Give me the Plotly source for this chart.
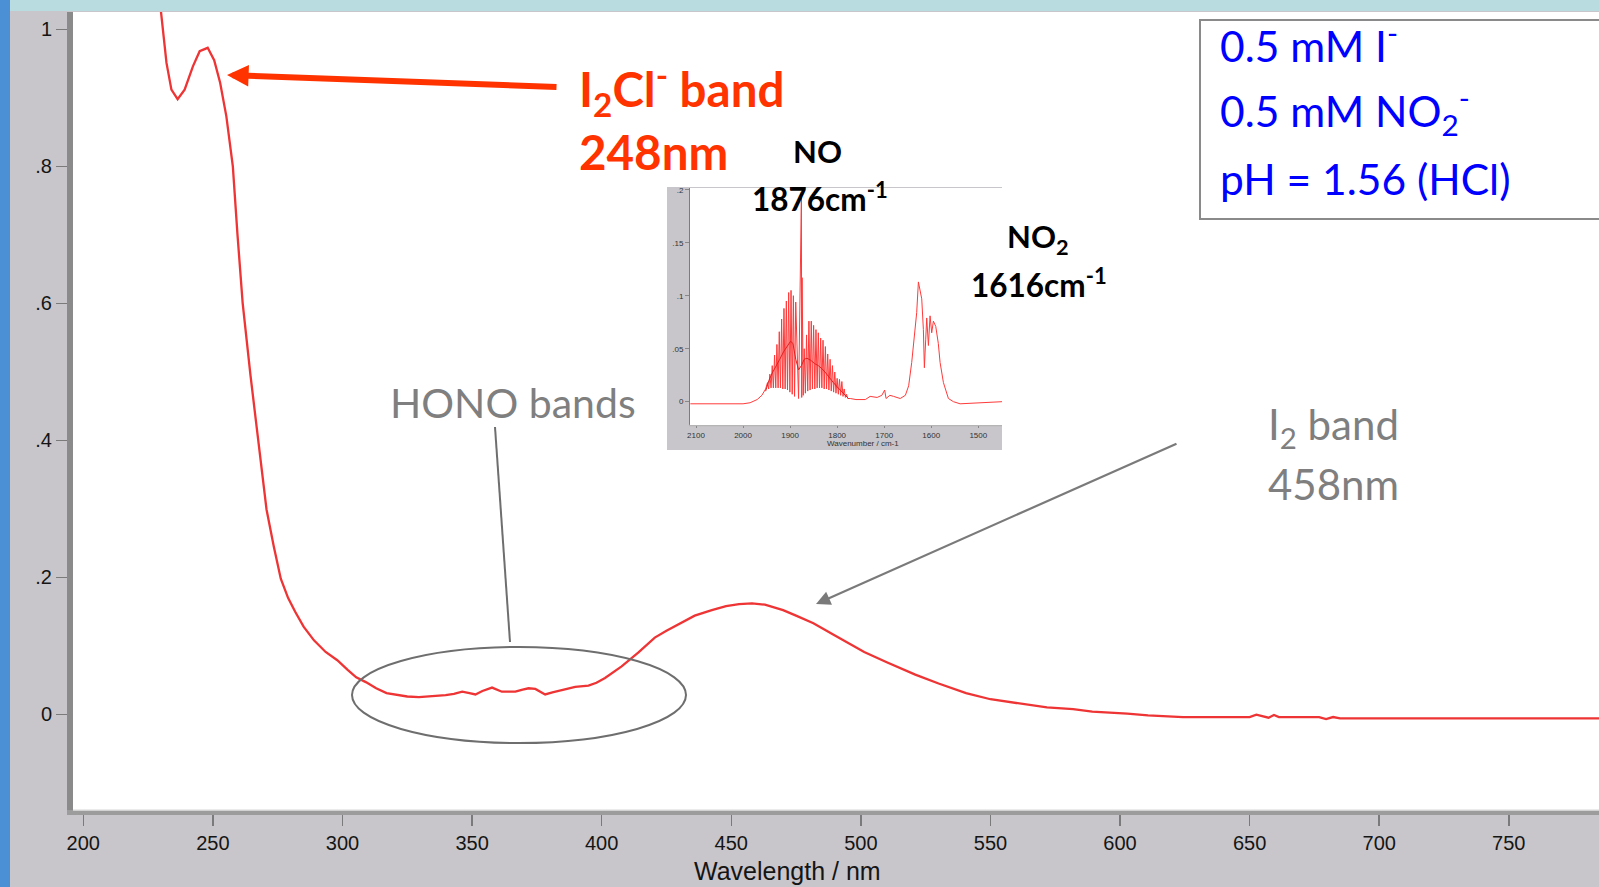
import plotly.graph_objects as go

W, H = 1599, 887

# ---- UV-Vis absorption spectrum (wavelength in nm, absorbance) ----
uv_wavelength = [229.0, 232.1, 234.0, 236.4, 239.1, 242.3, 244.9, 248.0, 250.5, 252.8,
                 255.2, 257.7, 259.5, 261.5, 264.5, 267.6, 270.7, 273.5, 276.2, 279.0,
                 281.7, 285.0, 289.0, 293.5, 298.0, 302.0, 305.3, 309.0, 313.0, 317.0,
                 321.8, 325.0, 329.5, 334.0, 339.8, 343.0, 346.2, 349.0, 351.3, 354.0,
                 357.7, 361.5, 366.7, 369.5, 371.8, 374.4, 376.5, 378.2, 381.0, 384.6,
                 389.8, 394.9, 398.0, 401.3, 404.5, 407.7, 414.1, 420.5, 425.0, 429.5,
                 435.9, 442.5, 448.0, 453.0, 458.0, 463.0, 470.0, 475.0, 481.7, 490.0,
                 501.3, 510.0, 521.0, 530.0, 540.6, 550.0, 560.2, 571.8, 581.9, 589.3,
                 602.8, 610.8, 624.3, 650.0, 652.6, 657.3, 659.4, 661.3, 676.8, 679.5,
                 682.2, 684.9, 700.0, 790.0]
uv_absorbance = [1.060, 0.951, 0.912, 0.898, 0.912, 0.946, 0.968, 0.973, 0.955, 0.922,
                 0.873, 0.800, 0.700, 0.600, 0.495, 0.396, 0.299, 0.245, 0.198, 0.170,
                 0.150, 0.128, 0.108, 0.091, 0.079, 0.065, 0.054, 0.047, 0.038, 0.031,
                 0.028, 0.026, 0.025, 0.026, 0.028, 0.030, 0.033, 0.031, 0.029, 0.034,
                 0.039, 0.033, 0.033, 0.036, 0.038, 0.037, 0.032, 0.029, 0.032, 0.035,
                 0.040, 0.042, 0.046, 0.053, 0.061, 0.070, 0.090, 0.112, 0.122, 0.131,
                 0.144, 0.152, 0.158, 0.161, 0.162, 0.160, 0.152, 0.144, 0.133, 0.115,
                 0.091, 0.076, 0.058, 0.045, 0.031, 0.022, 0.016, 0.010, 0.0076, 0.004,
                 0.001, -0.0015, -0.004, -0.004, -0.0006, -0.005, -0.001, -0.004, -0.004, -0.007,
                 -0.004, -0.006, -0.006, -0.006]

uv_xticks = [200, 250, 300, 350, 400, 450, 500, 550, 600, 650, 700, 750]
uv_yticks = [0, 0.2, 0.4, 0.6, 0.8, 1.0]
uv_yticklabels = ["0", ".2", ".4", ".6", ".8", "1"]

# ---- IR gas-phase spectrum (wavenumber in cm-1, absorbance) ----
ir_head_wn = [2112, 2050, 2000, 1985, 1970, 1960, 1952]
ir_head_abs = [-0.002, -0.002, -0.002, -0.001, 0.002, 0.006, 0.012]

# NO rotational lines: line maxima and the minima that follow each one
no_peak_wn = [1948, 1943, 1938, 1933, 1928, 1923, 1918, 1913, 1908, 1903, 1898, 1893,
              1888, 1876, 1874.5, 1870, 1865, 1860, 1855, 1850, 1845, 1840, 1835, 1830,
              1825, 1820, 1815, 1810, 1805, 1800, 1795, 1790, 1785, 1780]
no_peak_abs = [0.018, 0.026, 0.034, 0.044, 0.054, 0.066, 0.078, 0.088, 0.095, 0.103,
               0.105, 0.100, 0.094, 0.192, 0.117, 0.050, 0.063, 0.076, 0.076, 0.072,
               0.068, 0.065, 0.060, 0.058, 0.052, 0.045, 0.040, 0.034, 0.028, 0.022,
               0.021, 0.019, 0.012, 0.007]
no_trough_wn = [1945.5, 1940.5, 1935.5, 1930.5, 1925.5, 1920.5, 1915.5, 1910.5, 1905.5,
                1900.5, 1895.5, 1890.5, 1882, 1875.3, 1872, 1867.5, 1862.5, 1857.5,
                1852.5, 1847.5, 1842.5, 1837.5, 1832.5, 1827.5, 1822.5, 1817.5, 1812.5,
                1807.5, 1802.5, 1797.5, 1792.5, 1787.5, 1782.5, 1777.5]
no_trough_abs = [0.012, 0.013, 0.013, 0.013, 0.013, 0.013, 0.012, 0.012, 0.011, 0.009,
                 0.007, 0.005, 0.003, 0.004, 0.006, 0.008, 0.010, 0.011, 0.012, 0.012,
                 0.013, 0.013, 0.013, 0.012, 0.012, 0.011, 0.010, 0.009, 0.008, 0.007,
                 0.006, 0.005, 0.004, 0.003]

ir_tail_wn = [1772, 1760, 1740, 1730, 1715, 1705, 1699, 1696, 1688, 1680, 1666, 1655,
              1648, 1641.5, 1634.4, 1630.9, 1627.3, 1623.8, 1620.2, 1616.7, 1614.6,
              1611.7, 1609.6, 1606, 1602.5, 1599, 1595.4, 1590.4, 1585, 1581.2, 1574.1,
              1563.5, 1552.8, 1538.7, 1503.2, 1449]
ir_tail_abs = [0.003, 0.002, 0.002, 0.005, 0.004, 0.006, 0.011, 0.003, 0.006, 0.005,
               0.003, 0.006, 0.015, 0.037, 0.068, 0.084, 0.113, 0.106, 0.097, 0.068,
               0.032, 0.059, 0.079, 0.053, 0.081, 0.065, 0.076, 0.071, 0.055, 0.037,
               0.018, 0.003, 0.000, -0.002, -0.001, 0.000]

# low-resolution trace running through the NO band
no_mid_wn = [1952, 1945, 1938, 1930, 1922, 1914, 1906, 1899, 1894, 1888, 1882, 1876,
             1870, 1864, 1856, 1848, 1840, 1832, 1824, 1816, 1808, 1800, 1792, 1784, 1776]
no_mid_abs = [0.010, 0.020, 0.027, 0.033, 0.040, 0.047, 0.053, 0.057, 0.055, 0.040,
              0.030, 0.034, 0.040, 0.041, 0.039, 0.036, 0.034, 0.031, 0.027, 0.022,
              0.018, 0.014, 0.010, 0.006, 0.003]

ir_xticks = [2100, 2000, 1900, 1800, 1700, 1600, 1500]
ir_yticks = [0, 0.05, 0.1, 0.15, 0.2]
ir_yticklabels = ["0", ".05", ".1", ".15", ".2"]

# assemble the high-resolution IR trace
ir_wn = list(ir_head_wn)
ir_abs = list(ir_head_abs)
for pw, pa, tw, ta in zip(no_peak_wn, no_peak_abs, no_trough_wn, no_trough_abs):
    ir_wn += [pw, tw]
    ir_abs += [pa, ta]
ir_wn += ir_tail_wn
ir_abs += ir_tail_abs


def px(x):
    return x / W


def py(y):
    return 1 - y / H


GREY_BG = "#c8c6ca"
RED_MAIN = "#ee3434"
ORANGE = "#ff3300"
GREY_TXT = "#7f7f7f"
BLUE = "#0000ff"

fig = go.Figure()
fig.add_trace(go.Scatter(x=uv_wavelength, y=uv_absorbance, mode="lines",
                         line=dict(color=RED_MAIN, width=2.3), xaxis="x", yaxis="y",
                         hoverinfo="skip"))
fig.add_trace(go.Scatter(x=ir_wn, y=ir_abs, mode="lines",
                         line=dict(color="#ff3a3a", width=1), xaxis="x2", yaxis="y2",
                         hoverinfo="skip"))
fig.add_trace(go.Scatter(x=no_mid_wn, y=no_mid_abs, mode="lines",
                         line=dict(color="#e02020", width=1), xaxis="x2", yaxis="y2",
                         hoverinfo="skip"))

axis_font = dict(family="Liberation Sans, Arial, sans-serif", size=20, color="#151515")
inset_font = dict(family="Liberation Sans, Arial, sans-serif", size=8, color="#333333")
common = dict(showgrid=False, zeroline=False, showline=False, fixedrange=True,
              automargin=False)

fig.update_layout(
    width=W, height=H,
    margin=dict(l=0, r=0, t=0, b=0, autoexpand=False),
    paper_bgcolor=GREY_BG, plot_bgcolor="white",
    showlegend=False,
    xaxis=dict(domain=[px(73), 1], range=[196.03, 784.8], tickvals=uv_xticks,
               ticks="outside", ticklen=15, tickwidth=1.5, tickcolor="#7a7a7a",
               tickfont=axis_font, **common),
    yaxis=dict(domain=[py(810), py(12)], range=[-0.1397, 1.0253], tickvals=uv_yticks,
               ticktext=uv_yticklabels, ticks="outside", ticklen=16, tickwidth=1.5,
               tickcolor="#7a7a7a", tickfont=axis_font, **common),
    xaxis2=dict(domain=[px(690), px(1002)], range=[2112.75, 1449.6], tickvals=ir_xticks,
                anchor="y2", ticks="outside", ticklen=2, tickwidth=1, tickcolor="#888",
                tickfont=inset_font, **common),
    yaxis2=dict(domain=[py(425), py(188)], range=[-0.022, 0.2016], tickvals=ir_yticks,
                ticktext=ir_yticklabels, anchor="x2", ticks="outside", ticklen=4,
                tickwidth=1, tickcolor="#888", tickfont=inset_font, **common),
)

shapes = [
    # window edges around the chart
    dict(type="rect", xref="paper", yref="paper", x0=0, x1=px(10), y0=0, y1=1,
         fillcolor="#4b8fd4", line=dict(width=0), layer="below"),
    dict(type="rect", xref="paper", yref="paper", x0=px(10), x1=1, y0=py(11), y1=1,
         fillcolor="#b8dcdf", line=dict(width=0), layer="below"),
    # inset panel frame, then its white plotting area
    dict(type="rect", xref="paper", yref="paper", x0=px(667), x1=px(1002), y0=py(450), y1=py(187),
         fillcolor=GREY_BG, line=dict(width=0), layer="below"),
    dict(type="rect", xref="paper", yref="paper", x0=px(690), x1=px(1002), y0=py(425), y1=py(188),
         fillcolor="white", line=dict(width=0), layer="below"),
    dict(type="rect", xref="paper", yref="paper", x0=px(689), x1=px(691.5), y0=py(426), y1=py(188),
         fillcolor="#7c7c7c", line=dict(width=0), layer="below"),
    dict(type="line", xref="paper", yref="paper", x0=px(689), x1=px(1002), y0=py(425.5), y1=py(425.5),
         line=dict(color="#b5b5b5", width=1.5), layer="below"),
    # main axis bars
    dict(type="rect", xref="paper", yref="paper", x0=px(67), x1=px(73), y0=py(815), y1=py(12),
         fillcolor="#8a8a8a", line=dict(width=0), layer="above"),
    dict(type="rect", xref="paper", yref="paper", x0=px(67), x1=1, y0=py(815), y1=py(810),
         fillcolor="#9c9c9c", line=dict(width=0), layer="above"),
    dict(type="line", xref="paper", yref="paper", x0=px(73), x1=1, y0=py(810), y1=py(810),
         line=dict(color="#e4e4e4", width=1.5), layer="above"),
    # HONO callout: leader line and ellipse
    dict(type="line", xref="paper", yref="paper", x0=px(495), y0=py(427), x1=px(510), y1=py(642),
         line=dict(color="#6e6e6e", width=2)),
    dict(type="circle", xref="paper", yref="paper", x0=px(352), x1=px(686), y0=py(743), y1=py(647),
         line=dict(color="#6e6e6e", width=2)),
    # conditions box
    dict(type="rect", xref="paper", yref="paper", x0=px(1200), x1=px(1610), y0=py(219), y1=py(20),
         fillcolor="white", line=dict(color="#8a8a8a", width=2)),
]
fig.update_layout(shapes=shapes)


def label(text, x, baseline, size, color, bold=False, anchor="left",
          family="Lato, sans-serif", ratio=0.387):
    yc = baseline - ratio * size
    return dict(text=text, x=px(x), y=py(yc), xref="paper", yref="paper",
                xanchor=anchor, yanchor="middle", showarrow=False,
                font=dict(family=family, size=size, color=color,
                          weight=700 if bold else 400))


annotations = [
    label("I<sub>2</sub>Cl<sup>-</sup> band", 577, 107, 47.5, ORANGE, bold=True),
    label("248nm", 577, 170, 47.5, ORANGE, bold=True),
    label("NO", 818, 163, 31, "black", bold=True, anchor="center"),
    label("1876cm<sup>-1</sup>", 820, 209, 31.5, "black", bold=True, anchor="center"),
    label("NO<sub>2</sub>", 1038, 250, 31, "black", bold=True, anchor="center"),
    label("1616cm<sup>-1</sup>", 1039, 295, 31.5, "black", bold=True, anchor="center"),
    label("HONO bands", 388, 418, 41, GREY_TXT),
    label("I<sub>2</sub> band", 1266, 443, 42, GREY_TXT),
    label("458nm", 1266, 500, 42, GREY_TXT),
    label("0.5 mM I<sup>-</sup>", 1218, 59, 42.5, BLUE),
    label("0.5 mM NO<sub>2</sub><sup>-</sup>", 1218, 127, 42.5, BLUE),
    label("pH = 1.56 (HCl)", 1218, 195, 42.5, BLUE),
    label("Wavelength / nm", 787, 880, 25, "#151515", anchor="center",
          family="Liberation Sans, Arial, sans-serif", ratio=0.347),
    label("Wavenumber / cm-1", 863, 446, 8, "#333333", anchor="center",
          family="Liberation Sans, Arial, sans-serif", ratio=0.347),
    # arrows
    dict(text="", x=px(227), y=py(75), xref="paper", yref="paper", showarrow=True,
         ax=331, ay=12, arrowhead=2, arrowsize=0.72, arrowwidth=6, arrowcolor=ORANGE,
         standoff=0),
    dict(text="", x=px(816), y=py(604), xref="paper", yref="paper", showarrow=True,
         ax=362, ay=-161, arrowhead=2, arrowsize=1.3, arrowwidth=2.2, arrowcolor="#7a7a7a",
         standoff=0),
]
fig.update_layout(annotations=annotations)

fig.write_html("out.html", config={"displayModeBar": False, "staticPlot": True})
